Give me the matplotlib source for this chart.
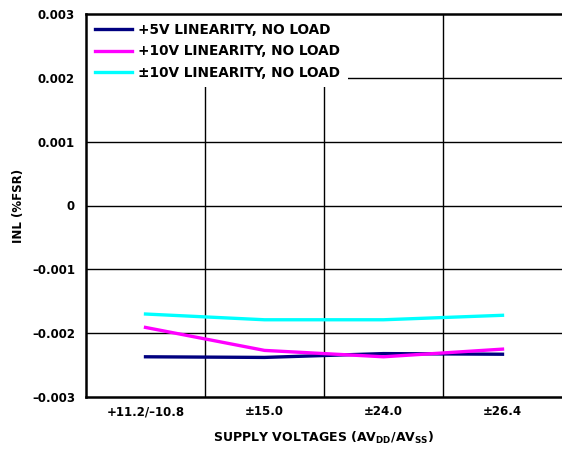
import matplotlib
matplotlib.use("Agg")
import matplotlib.pyplot as plt
import numpy as np

plt.rcParams["font.family"] = ["DejaVu Sans"]
plt.rcParams["font.weight"] = "bold"
plt.rcParams["mathtext.fontset"] = "custom"
plt.rcParams["mathtext.rm"] = "DejaVu Sans:bold"

categories = ["+11.2/\u201310.8", "\u00b115.0", "\u00b124.0", "\u00b126.4"]
inl_5v = [-0.00237, -0.00238, -0.00232, -0.00233]
inl_10v = [-0.00191, -0.00227, -0.00237, -0.00225]
inl_pm10v = [-0.00170, -0.00179, -0.00179, -0.00172]
yticks = [0.003, 0.002, 0.001, 0, -0.001, -0.002, -0.003]
ytick_labels = ["0.003", "0.002", "0.001", "0", "\u20130.001", "\u20130.002", "\u20130.003"]

fig = plt.figure(figsize=(5.62, 4.51), dpi=100)
ax = fig.add_axes([86 / 562, 54 / 451, 476 / 562, 383 / 451])

x = np.arange(len(categories)) + 0.5
ax.plot(x, inl_5v, color="#000080", lw=2.4, label="+5V LINEARITY, NO LOAD", zorder=3)
ax.plot(x, inl_10v, color="#ff00ff", lw=2.4, label="+10V LINEARITY, NO LOAD", zorder=3)
ax.plot(x, inl_pm10v, color="#00ffff", lw=2.4, label="\u00b110V LINEARITY, NO LOAD", zorder=3)

ax.set_xlim(0, 4)
ax.set_ylim(-0.003, 0.003)
ax.set_xticks(x)
ax.set_xticklabels(categories, fontsize=8.5, fontweight="bold")
ax.set_yticks(yticks)
ax.set_yticklabels(ytick_labels, fontsize=8.5, fontweight="bold")
ax.tick_params(axis="x", length=0, pad=6)
ax.tick_params(axis="y", length=0, pad=8)

for v in [1, 2, 3]:
    ax.axvline(v, color="black", lw=1, zorder=1)
for v in yticks[1:-1]:
    ax.axhline(v, color="black", lw=1, zorder=1)

for s in ["left", "top", "bottom"]:
    ax.spines[s].set_linewidth(1.8)
    ax.spines[s].set_zorder(6)
ax.spines["right"].set_visible(False)

ax.set_ylabel("INL (%FSR)", fontsize=8.5, fontweight="bold", labelpad=5)
ax.set_xlabel("SUPPLY VOLTAGES (AV$\\mathrm{_{DD}}$/AV$\\mathrm{_{SS}}$)",
              fontsize=9, fontweight="bold", labelpad=8)

leg = ax.legend(loc="upper left", fontsize=9.8, frameon=True, fancybox=False,
                handlelength=2.7, handletextpad=0.5, labelspacing=0.55,
                borderaxespad=0.1, borderpad=0.55)
leg.get_frame().set_edgecolor("none")
leg.get_frame().set_facecolor("white")
leg.get_frame().set_alpha(1)
leg.set_zorder(5)
for t in leg.get_texts():
    t.set_fontweight("bold")

fig.savefig("out.png", dpi=100)
